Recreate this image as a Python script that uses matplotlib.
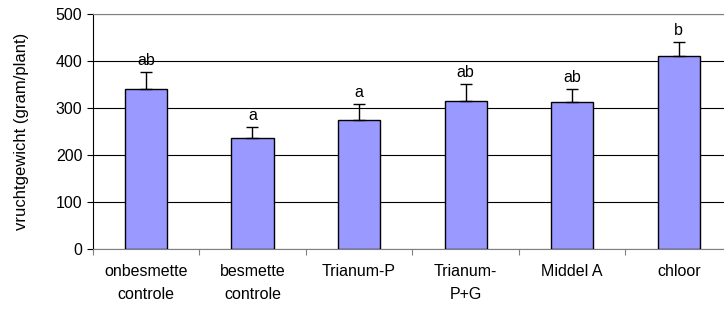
import matplotlib.pyplot as plt
import numpy as np

plt.rcParams['font.family'] = ['Liberation Sans', 'DejaVu Sans']

categories = ['onbesmette\ncontrole', 'besmette\ncontrole', 'Trianum-P', 'Trianum-\nP+G', 'Middel A', 'chloor']
values = [341, 237, 274, 315, 312, 410]
errors = [36, 23, 35, 35, 29, 30]
letters = ['ab', 'a', 'a', 'ab', 'ab', 'b']

fig = plt.figure(figsize=(7.24, 3.09), dpi=100)
ax = fig.add_axes([0.128, 0.194, 0.883, 0.761])

x = np.arange(len(categories))
ax.bar(x, values, width=0.395, color='#9999FF', edgecolor='black', linewidth=1, zorder=3)
ax.errorbar(x, values, yerr=[np.zeros(len(values)), errors], fmt='none', ecolor='black',
            elinewidth=1, capsize=4, capthick=1, zorder=4)
for xi, v, e, l in zip(x, values, errors, letters):
    ax.annotate(l, (xi, v + e), xytext=(0, 3), textcoords='offset points',
                ha='center', va='bottom', fontsize=11.5)

ax.set_xlim(-0.5, 5.5)
ax.set_ylim(0, 500)
ax.set_yticks([0, 100, 200, 300, 400, 500])
ax.yaxis.grid(True, color='black', linewidth=0.8, zorder=0)
ax.set_axisbelow(True)

ax.set_xticks(np.arange(-0.5, 6, 1))
ax.set_xticklabels([])
ax.set_xticks(x, minor=True)
ax.set_xticklabels(categories, minor=True, fontsize=11.5, linespacing=1.6)
ax.tick_params(axis='x', which='minor', length=0, pad=11)
ax.tick_params(axis='x', which='major', length=4, color='#808080')
ax.tick_params(axis='y', length=4, labelsize=11.5)

ax.spines['top'].set_color('#808080')
ax.spines['right'].set_visible(False)
ax.spines['bottom'].set_color('#808080')
ax.spines['left'].set_color('black')
ax.set_ylabel('vruchtgewicht (gram/plant)', fontsize=12, labelpad=19)

fig.savefig('out.png', dpi=100)
